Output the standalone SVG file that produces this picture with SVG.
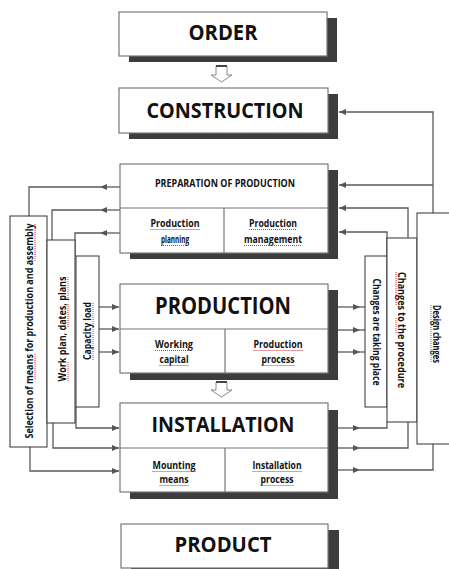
<svg xmlns="http://www.w3.org/2000/svg" width="449" height="569" viewBox="0 0 449 569">
<defs>
<marker id="ah" markerWidth="8" markerHeight="6" refX="7" refY="3" orient="auto" markerUnits="userSpaceOnUse">
<path d="M0,0 L7,3 L0,6 z" fill="#555"/>
</marker>
<style>
.box{fill:#fff;stroke:#777;stroke-width:1.2}
.sh{fill:#3d3d3d}
.side{fill:#fff;stroke:#333;stroke-width:1}
.ln{fill:none;stroke:#5a5a5a;stroke-width:1.3}
.t{font-family:"Open Sans","Liberation Sans",sans-serif;font-weight:bold;fill:#111;text-anchor:middle}
.big{font-size:21px}
.sm{font-size:11px}
.vt{font-size:10.5px;dominant-baseline:central}
.sq{stroke:#d33;stroke-width:1;stroke-dasharray:1 1;fill:none}
</style>
</defs>
<rect width="449" height="569" fill="#fff"/>

<g id="connectors">
<!-- hollow arrows -->
<path d="M216,66 H227 V75 H232 L221.5,82 L211,75 H216 Z" fill="#fff" stroke="#888" stroke-width="1"/>
<line x1="216" y1="66" x2="227" y2="66" stroke="#444" stroke-width="2"/>
<path d="M216,382 H227 V390 H232 L221.5,397 L211,390 H216 Z" fill="#fff" stroke="#888" stroke-width="1"/>
<line x1="216" y1="382" x2="227" y2="382" stroke="#444" stroke-width="2"/>

<!-- PREP to left boxes -->
<path class="ln" d="M120,187 H100" marker-end="url(#ah)"/>
<path class="ln" d="M100,187 H29 V216"/>
<path class="ln" d="M120,210 H100" marker-end="url(#ah)"/>
<path class="ln" d="M100,210 H52 V240"/>
<path class="ln" d="M120,233 H100" marker-end="url(#ah)"/>
<path class="ln" d="M100,233 H75 V256"/>
<!-- left boxes to production -->
<path class="ln" d="M99,307 H119" marker-end="url(#ah)"/>
<path class="ln" d="M99,329 H119" marker-end="url(#ah)"/>
<path class="ln" d="M99,352 H119" marker-end="url(#ah)"/>
<!-- left boxes to installation -->
<path class="ln" d="M76,407 V428 H119" marker-end="url(#ah)"/>
<path class="ln" d="M53,423 V448 H119" marker-end="url(#ah)"/>
<path class="ln" d="M30,447 V471 H119" marker-end="url(#ah)"/>
<!-- production to right boxes -->
<path class="ln" d="M338,307 H360" marker-end="url(#ah)"/>
<path class="ln" d="M360,307 H365"/>
<path class="ln" d="M338,330 H360" marker-end="url(#ah)"/>
<path class="ln" d="M360,330 H365"/>
<path class="ln" d="M338,352 H360" marker-end="url(#ah)"/>
<path class="ln" d="M360,352 H365"/>
<!-- installation to right boxes -->
<path class="ln" d="M338,428 H360" marker-end="url(#ah)"/>
<path class="ln" d="M360,428 H387 V422"/>
<path class="ln" d="M338,448 H360" marker-end="url(#ah)"/>
<path class="ln" d="M360,448 H408 V422"/>
<path class="ln" d="M338,470 H360" marker-end="url(#ah)"/>
<path class="ln" d="M360,470 H433 V444"/>
<!-- right boxes to PREP / CONSTRUCTION -->
<path class="ln" d="M387,256 V232 H339" marker-end="url(#ah)"/>
<path class="ln" d="M408,238 V208 H339" marker-end="url(#ah)"/>
<path class="ln" d="M433,213 V112 H339" marker-end="url(#ah)"/>
<path class="ln" d="M433,185 H339" marker-end="url(#ah)"/>
</g>

<g id="order">
<rect class="sh" x="129" y="18" width="208" height="44"/>
<rect class="box" x="119" y="12" width="208" height="44"/>
<text class="t big" x="223" y="40" textLength="69" lengthAdjust="spacingAndGlyphs">ORDER</text>
</g>

<g id="construction">
<rect class="sh" x="129" y="94" width="209" height="45"/>
<rect class="box" x="119" y="88" width="209" height="45"/>
<text class="t big" x="225" y="118" textLength="157" lengthAdjust="spacingAndGlyphs">CONSTRUCTION</text>
</g>

<g id="preparation">
<rect class="sh" x="130" y="170" width="208" height="89"/>
<rect class="box" x="120" y="164" width="208" height="89"/>
<line x1="120" y1="208" x2="328" y2="208" stroke="#777" stroke-width="1.2"/>
<line x1="224" y1="208" x2="224" y2="253" stroke="#777" stroke-width="1.2"/>
<text class="t" style="font-size:10px" x="225" y="187" textLength="140" lengthAdjust="spacingAndGlyphs">PREPARATION OF PRODUCTION</text>
<text class="t sm" x="175" y="227" textLength="49" lengthAdjust="spacingAndGlyphs">Production</text>
<text class="t sm" x="175" y="243" textLength="28" lengthAdjust="spacingAndGlyphs">planning</text>
<text class="t sm" x="273" y="227" textLength="48" lengthAdjust="spacingAndGlyphs">Production</text>
<text class="t sm" x="273" y="243" textLength="58" lengthAdjust="spacingAndGlyphs">management</text>
<path class="sq" d="M150.5,229.5 H199.5 M161,245.5 H189 M249,229.5 H297 M244,245.5 H302"/>
</g>

<g id="production">
<rect class="sh" x="130" y="290" width="208" height="90"/>
<rect class="box" x="120" y="284" width="208" height="89"/>
<line x1="120" y1="329" x2="328" y2="329" stroke="#777" stroke-width="1.2"/>
<line x1="225" y1="329" x2="225" y2="373" stroke="#777" stroke-width="1.2"/>
<text class="t" style="font-size:23px" x="223" y="314" textLength="136" lengthAdjust="spacingAndGlyphs">PRODUCTION</text>
<text class="t sm" x="174" y="348" textLength="38" lengthAdjust="spacingAndGlyphs">Working</text>
<text class="t sm" x="174" y="363" textLength="29" lengthAdjust="spacingAndGlyphs">capital</text>
<text class="t sm" x="278" y="348" textLength="49" lengthAdjust="spacingAndGlyphs">Production</text>
<text class="t sm" x="278" y="363" textLength="33" lengthAdjust="spacingAndGlyphs">process</text>
<path class="sq" d="M155,350.5 H193 M159.5,365.5 H188.5 M253.5,350.5 H302.5 M261.5,365.5 H294.5"/>
</g>

<g id="installation">
<rect class="sh" x="130" y="410" width="208" height="89"/>
<rect class="box" x="120" y="403" width="208" height="89"/>
<line x1="120" y1="448" x2="328" y2="448" stroke="#777" stroke-width="1.2"/>
<line x1="225" y1="448" x2="225" y2="492" stroke="#777" stroke-width="1.2"/>
<text class="t" style="font-size:22px" x="223" y="432" textLength="143" lengthAdjust="spacingAndGlyphs">INSTALLATION</text>
<text class="t sm" x="174" y="469" textLength="43" lengthAdjust="spacingAndGlyphs">Mounting</text>
<text class="t sm" x="174" y="483" textLength="29" lengthAdjust="spacingAndGlyphs">means</text>
<text class="t sm" x="277" y="469" textLength="49" lengthAdjust="spacingAndGlyphs">Installation</text>
<text class="t sm" x="277" y="483" textLength="33" lengthAdjust="spacingAndGlyphs">process</text>
<path class="sq" d="M152.5,471.5 H195.5 M159.5,485.5 H188.5 M252.5,471.5 H301.5 M260.5,485.5 H293.5"/>
</g>

<g id="product">
<rect class="sh" x="131" y="530" width="208" height="45"/>
<rect class="box" x="121" y="524" width="207" height="44"/>
<text class="t" style="font-size:22px" x="223" y="552" textLength="97" lengthAdjust="spacingAndGlyphs">PRODUCT</text>
</g>

<g id="selection">
<rect class="side" x="10" y="216" width="37" height="231"/>
<g transform="translate(29,331) rotate(-90)">
<text class="t vt" x="0" y="0" textLength="215" lengthAdjust="spacingAndGlyphs">Selection of means for production and assembly</text>
<path class="sq" d="M-48,6 H-23 M70,6 H107"/>
</g>
</g>

<g id="workplan">
<rect class="side" x="47" y="240" width="28" height="183"/>
<g transform="translate(62,329) rotate(-90)">
<text class="t vt" x="0" y="0" textLength="105" lengthAdjust="spacingAndGlyphs">Work plan, dates, plans</text>
<path class="sq" d="M-52,6 H-32 M2,6 H26 M31,6 H52"/>
</g>
</g>

<g id="capacity">
<rect class="side" x="76" y="256" width="23" height="151"/>
<g transform="translate(87,331) rotate(-90)">
<text class="t vt" x="0" y="0" textLength="58" lengthAdjust="spacingAndGlyphs">Capacity load</text>
<path class="sq" d="M-29,6 H29"/>
</g>
</g>

<g id="changes-taking-place">
<rect class="side" x="365" y="256" width="22" height="151"/>
<g transform="translate(377,332) rotate(90)">
<text class="t vt" x="0" y="0" textLength="107" lengthAdjust="spacingAndGlyphs">Changes are taking place</text>
</g>
</g>

<g id="changes-procedure">
<rect class="side" x="387" y="238" width="30" height="184"/>
<g transform="translate(402,330) rotate(90)">
<text class="t vt" x="0" y="0" textLength="116" lengthAdjust="spacingAndGlyphs">Changes to the procedure</text>
<path class="sq" d="M-58,6 H-24 M-12,6 H4"/>
</g>
</g>

<g id="design-changes">
<rect class="side" x="417" y="213" width="40" height="231"/>
<g transform="translate(437,334) rotate(90)">
<text class="t vt" x="0" y="0" textLength="58" lengthAdjust="spacingAndGlyphs">Design changes</text>
<path class="sq" d="M-29,6 H29"/>
</g>
</g>
</svg>
